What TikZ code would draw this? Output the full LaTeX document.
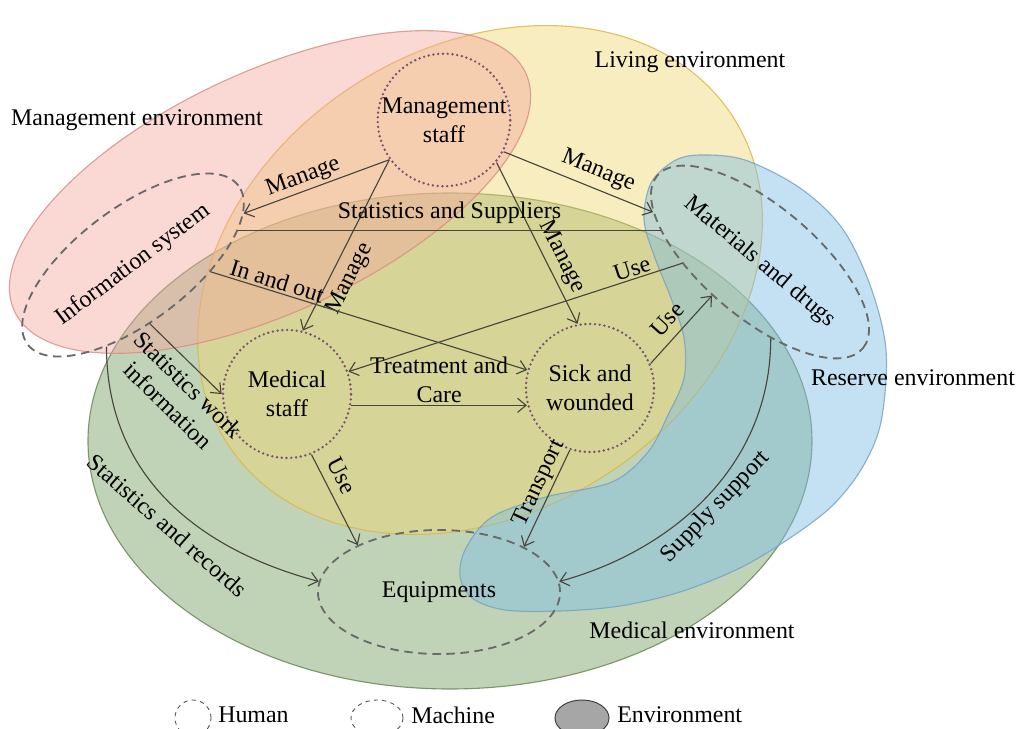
\documentclass[tikz,border=0pt]{standalone}
\usepackage{fontspec}
\setmainfont{Liberation Serif}
\usepackage{tikz}
\usetikzlibrary{shapes.geometric,arrows.meta}
\pgfdeclarelayer{background}
\pgfsetlayers{background,main}

\definecolor{pinkenv}{RGB}{243,168,158}
\definecolor{pinkedge}{RGB}{215,140,130}
\definecolor{yellowenv}{RGB}{240,214,110}
\definecolor{yellowedge}{RGB}{222,180,70}
\definecolor{greenenv}{RGB}{118,158,96}
\definecolor{greenedge}{RGB}{100,130,80}
\definecolor{blueenv}{RGB}{125,188,230}
\definecolor{blueedge}{RGB}{115,160,195}
\definecolor{humanline}{RGB}{120,82,112}
\definecolor{machineline}{RGB}{105,105,105}
\definecolor{linkline}{RGB}{70,70,60}

\tikzset{
  human/.style = {circle, draw=humanline, line width=1.9pt, dash pattern=on 0pt off 3.4pt,
                  line cap=round, minimum size=3.2cm, inner sep=0pt, align=center},
  machine/.style = {ellipse, draw=machineline, line width=1.3pt, dash pattern=on 6pt off 4pt,
                    inner sep=0pt, align=center},
  link/.style = {draw=linkline, line width=0.8pt, -{Straight Barb[length=6pt,width=10pt]}},
  lbl/.style = {inner sep=1.5pt},
  env/.style = {line width=0.8pt, fill opacity=0.45, draw opacity=0.8}
}

\begin{document}
\begin{tikzpicture}[x=0.025cm, y=-0.025cm, font=\fontsize{17}{20.5}\selectfont]
  \useasboundingbox (0,0) rectangle (1028,729);

  \node[human] (mgmt) at (444,120) {Management\\staff};
  \node[human] (med) at (287,394) {Medical\\staff};
  \node[human] (sick) at (590,388) {Sick and\\wounded};
  \node[machine, rotate=37, minimum width=6.5cm, minimum height=2.85cm] (info) at (133,265) {Information system};
  \node[machine, rotate=-40, minimum width=6.45cm, minimum height=2.8cm] (mat) at (760,262) {Materials and drugs};
  \node[machine, minimum width=6.05cm, minimum height=3.1cm] (equip) at (439,592) {Equipments};

  \node (envmgmt) at (137,120) {Management environment};
  \node (envliving) at (690,62) {Living environment};
  \node (envreserve) at (913,378) {Reserve environment};
  \node (envmedical) at (692,630) {Medical environment};

  \begin{pgfonlayer}{background}
    \filldraw[env, fill=greenenv, draw=greenedge] (450,441) ellipse [x radius=362, y radius=248];
    \filldraw[env, fill=yellowenv, draw=yellowedge, rotate around={33:(480,280)}] (480,280) ellipse [x radius=301, y radius=232];
    \filldraw[env, fill=pinkenv, draw=pinkedge, rotate around={25:(270,192)}] (270,192) ellipse [x radius=282, y radius=120];
    \filldraw[env, fill=blueenv, draw=blueedge] plot[smooth cycle, tension=0.55] coordinates {
      (700,155) (745,160) (800,188) (842,228) (870,285) (886,350) (881,422) (862,468)
      (832,506) (790,538) (740,568) (680,592) (620,606) (560,611) (505,610) (472,598)
      (460,576) (466,548) (492,517) (546,497) (612,482) (648,452) (668,415) (684,378)
      (684,338) (671,298) (655,258) (644,220) (651,183) (674,161)};
  \end{pgfonlayer}

  \draw[link] (mgmt.216) -- node[lbl, sloped, above, pos=0.56] (lbmanagei) {Manage} (info.-12);
  \draw[link] (mgmt.216) -- node[lbl, sloped, below=4pt, pos=0.65] (lbmanagem) {Manage} (med.76);
  \draw[link] (mgmt.-39) -- node[lbl, sloped, above=2pt, pos=0.63] (lbmanages) {Manage} (sick.101);
  \draw[link] (mgmt.-28) -- node[lbl, sloped, above=3pt, pos=0.59] (lbmanaged) {Manage} (mat.195);
  \draw[link, -] (info.-19) -- node[lbl, above=3pt] (lbsupp) {Statistics and Suppliers} (info.-19 -| mat.203);
  \draw[link] (info.-42) -- node[lbl, sloped, above, pos=0.2] (lbinout) {In and out} (sick.164);
  \draw[link] (mat.221) -- node[lbl, sloped, above, pos=0.14] (lbusem) {Use} (med.20);
  \draw[link] (sick.22) -- node[lbl, sloped, above=5pt, pos=0.48] (lbuses) {Use} (mat.255);
  \draw[link] (med.-10) -- node[lbl, above, align=center] (lbcare) {Treatment and\\Care} (med.-10 -| sick.195);
  \draw[link] (info.-111) -- node[lbl, sloped, below=4pt, pos=0.7, align=center] (lbwork) {Statistics work\\information} (med.180);
  \draw[link] (info.-145) .. controls +(0,130) and +(-120,-32) .. node[lbl, sloped, below=5pt, pos=0.55] (lbrecords) {Statistics and records} (equip.175);
  \draw[link] (med.-68) -- node[lbl, sloped, above=5pt, pos=0.32] (lbusee) {Use} (equip.150);
  \draw[link] (sick.-108) -- node[lbl, sloped, above, pos=0.4] (lbtransport) {Transport} (equip.28);
  \draw[link] (mat.-42) .. controls +(0,130) and +(110,-30) .. node[lbl, sloped, below, pos=0.5] (lbsupply) {Supply support} (equip.5);

  \node[circle, draw=black!70, line width=0.6pt, dash pattern=on 3pt off 3pt, minimum size=0.9cm] (lghuman) at (193,718) {};
  \node[anchor=west, inner sep=0pt] (lghumantext) at (218,715) {Human};
  \node[ellipse, draw=black!70, line width=0.6pt, dash pattern=on 3pt off 3pt, minimum width=1.3cm, minimum height=0.9cm] (lgmachine) at (377,718) {};
  \node[anchor=west, inner sep=0pt] (lgmachinetext) at (411,715) {Machine};
  \node[ellipse, draw=black!75, fill=black!35, line width=0.7pt, minimum width=1.35cm, minimum height=0.9cm] (lgenv) at (582,718) {};
  \node[anchor=west, inner sep=0pt] (lgenvtext) at (617,715) {Environment};
\end{tikzpicture}
\end{document}
